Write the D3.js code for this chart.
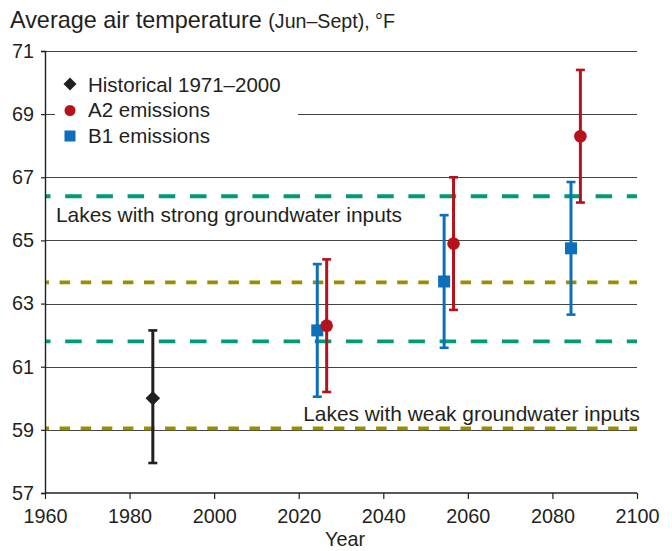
<!DOCTYPE html>
<html>
<head>
<meta charset="utf-8">
<script src="https://cdn.jsdelivr.net/npm/d3@7"></script>
<style>
  body { margin: 0; background: #fff; }
  svg text { font-family: "Liberation Sans", Arial, Helvetica, sans-serif; fill: #231f20; }
</style>
</head>
<body>
<div id="chart"></div>
<script>
  // data
  var histYear = [1985.5];
  var histMean = [60.0];
  var histLow = [57.95];
  var histHigh = [62.15];

  var futureYears = [2025.5, 2055.5, 2085.5];
  var a2Mean = [62.3, 64.9, 68.3];
  var a2Low = [60.2, 62.8, 66.2];
  var a2High = [64.4, 67.0, 70.4];
  var b1Mean = [62.15, 63.7, 64.75];
  var b1Low = [60.05, 61.6, 62.65];
  var b1High = [64.25, 65.8, 66.85];

  // lake thresholds (dashed lines)
  var strongLines = [66.4, 61.8];
  var weakLines = [63.67, 59.05];

  var xTicks = [1960, 1980, 2000, 2020, 2040, 2060, 2080, 2100];
  var yTicks = [57, 59, 61, 63, 65, 67, 69, 71];

  var W = 672, H = 551;
  var margin = { top: 51, right: 35, bottom: 58, left: 45 };
  var width = W - margin.left - margin.right;
  var height = H - margin.top - margin.bottom;

  var black = "#231f20", red = "#b5121b", blue = "#0b6fba",
      green = "#009a78", olive = "#9a8e00";

  var svg = d3.select("#chart").append("svg")
    .attr("width", W).attr("height", H);

  // title
  var title = svg.append("text").attr("x", 10).attr("y", 28)
    .style("font-size", "23.4px");
  title.append("tspan").text("Average air temperature ");
  title.append("tspan").style("font-size", "19.6px").text("(Jun–Sept), °F");

  var g = svg.append("g")
    .attr("transform", "translate(" + margin.left + "," + margin.top + ")");

  var x = d3.scaleLinear().domain([1960, 2100]).range([0, width]);
  var y = d3.scaleLinear().domain([57, 71]).range([height, 0]);

  // gridlines
  g.selectAll(".grid")
    .data(yTicks.filter(function (d) { return d > 57; }))
    .enter().append("line")
    .attr("x1", 0).attr("x2", width)
    .attr("y1", function (d) { return Math.round(y(d)) + 0.5; })
    .attr("y2", function (d) { return Math.round(y(d)) + 0.5; })
    .attr("stroke", "#444").attr("stroke-width", 1.1);

  // dashed threshold lines
  g.selectAll(".strong").data(strongLines).enter().append("line")
    .attr("x1", 0).attr("x2", width)
    .attr("y1", function (d) { return y(d); }).attr("y2", function (d) { return y(d); })
    .attr("stroke", green).attr("stroke-width", 3.8)
    .attr("stroke-dasharray", "16.5,14.7").attr("stroke-dashoffset", 11);

  g.selectAll(".weak").data(weakLines).enter().append("line")
    .attr("x1", 0).attr("x2", width)
    .attr("y1", function (d) { return y(d); }).attr("y2", function (d) { return y(d); })
    .attr("stroke", olive).attr("stroke-width", 3.8)
    .attr("stroke-dasharray", "10.5,10.6").attr("stroke-dashoffset", 6.5);

  // axes
  var yAxis = g.append("g").call(d3.axisLeft(y).tickValues(yTicks).tickSize(4).tickPadding(8).tickFormat(d3.format("d")));
  var xAxis = g.append("g").attr("transform", "translate(0," + height + ")")
    .call(d3.axisBottom(x).tickValues(xTicks).tickSize(6).tickPadding(10).tickFormat(d3.format("d")));
  [xAxis, yAxis].forEach(function (a) {
    a.select(".domain").attr("stroke", black).attr("stroke-width", 1.4);
    a.selectAll(".tick line").attr("stroke", black).attr("stroke-width", 1.2);
    a.selectAll("text").style("font-size", "19.8px").attr("fill", black);
  });
  xAxis.select(".domain").attr("d", "M0,0H" + width);
  yAxis.selectAll("text").attr("x", -11);

  // axis title
  svg.append("text").attr("x", 345).attr("y", 546)
    .attr("text-anchor", "middle").style("font-size", "19.8px").text("Year");

  // annotation labels
  g.append("text").attr("x", 11).attr("y", 171)
    .style("font-size", "20.9px").text("Lakes with strong groundwater inputs");
  g.append("text").attr("x", width + 3).attr("y", 370)
    .attr("text-anchor", "end")
    .style("font-size", "20.9px").text("Lakes with weak groundwater inputs");

  var dodge = 4.7;

  function errorBars(years, low, high, col, dx) {
    var grp = g.append("g");
    years.forEach(function (yr, i) {
      var cx = x(yr) + dx;
      grp.append("line").attr("x1", cx).attr("x2", cx)
        .attr("y1", y(low[i])).attr("y2", y(high[i]))
        .attr("stroke", col).attr("stroke-width", 3);
      [low[i], high[i]].forEach(function (v) {
        grp.append("line").attr("x1", cx - 4.5).attr("x2", cx + 4.5)
          .attr("y1", y(v)).attr("y2", y(v))
          .attr("stroke", col).attr("stroke-width", 2.6);
      });
    });
  }

  errorBars(histYear, histLow, histHigh, black, 0);
  errorBars(futureYears, b1Low, b1High, blue, -dodge);
  errorBars(futureYears, a2Low, a2High, red, dodge);

  // markers
  g.selectAll(".hist").data(histYear).enter().append("path")
    .attr("d", "M0,-7.2L7.3,0L0,7.2L-7.3,0Z")
    .attr("transform", function (d, i) { return "translate(" + x(d) + "," + y(histMean[i]) + ")"; })
    .attr("fill", black);

  g.selectAll(".b1").data(futureYears).enter().append("rect")
    .attr("x", function (d) { return x(d) - dodge - 6; })
    .attr("y", function (d, i) { return y(b1Mean[i]) - 6; })
    .attr("width", 12).attr("height", 12)
    .attr("fill", blue);

  g.selectAll(".a2").data(futureYears).enter().append("circle")
    .attr("cx", function (d) { return x(d) + dodge; })
    .attr("cy", function (d, i) { return y(a2Mean[i]); })
    .attr("r", 6.3)
    .attr("fill", red);

  // legend
  var legendItems = ["Historical 1971–2000", "A2 emissions", "B1 emissions"];
  var legend = svg.append("g").attr("transform", "translate(55,68)");
  legend.append("rect").attr("x", 0).attr("y", 0).attr("width", 243).attr("height", 82)
    .attr("fill", "#fff");
  var items = legend.selectAll(".item").data(legendItems).enter().append("g")
    .attr("transform", function (d, i) { return "translate(0," + (16 + i * 25.5) + ")"; });
  items.append("text").attr("x", 33).attr("y", 7.5)
    .style("font-size", "20.5px").text(function (d) { return d; });
  items.each(function (d, i) {
    var it = d3.select(this);
    if (i === 0) it.append("path").attr("d", "M15,-6.5L21.5,0L15,6.5L8.5,0Z").attr("fill", black);
    if (i === 1) it.append("circle").attr("cx", 15).attr("cy", 1).attr("r", 5.5).attr("fill", red);
    if (i === 2) it.append("rect").attr("x", 9.5).attr("y", -4.5).attr("width", 11).attr("height", 11).attr("fill", blue);
  });
</script>
</body>
</html>
